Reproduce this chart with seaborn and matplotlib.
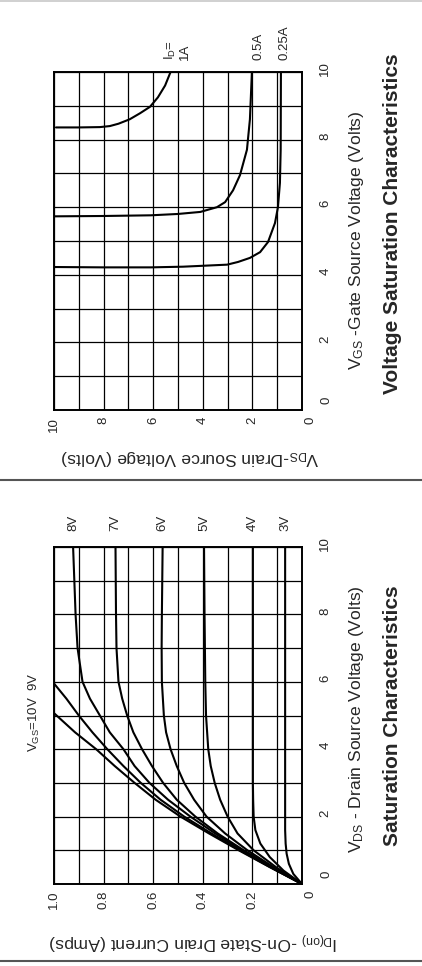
import matplotlib
matplotlib.use('Agg')
import matplotlib.pyplot as plt
import seaborn as sns
import pandas as pd
from matplotlib.lines import Line2D
from matplotlib.transforms import ScaledTranslation

# ---------------- Data ----------------
# Voltage Saturation Characteristics: VDS (V) vs VGS (V) at constant ID
vsat_labels = ['1A', '0.5A', '0.25A']
vgs_1A = [8.36, 8.36, 8.37, 8.40, 8.47, 8.60, 8.78, 8.97, 9.25, 9.60, 10.0]
vds_1A = [9.92, 9.00, 8.15, 7.75, 7.40, 6.95, 6.53, 6.13, 5.81, 5.52, 5.30]
vgs_05A = [5.73, 5.74, 5.76, 5.80, 5.86, 6.00, 6.15, 6.50, 6.95, 7.70, 8.60, 10.0]
vds_05A = [9.96, 8.00, 6.10, 5.00, 4.10, 3.43, 3.10, 2.78, 2.50, 2.22, 2.10, 2.02]
vgs_025A = [4.23, 4.22, 4.22, 4.24, 4.30, 4.38, 4.50, 4.67, 4.97, 5.53, 6.00, 6.72, 7.70, 10.0]
vds_025A = [9.96, 8.00, 6.10, 4.80, 3.02, 2.58, 2.10, 1.69, 1.37, 1.09, 0.97, 0.89, 0.86, 0.85]

# Saturation Characteristics: ID(on) (A) vs VDS (V) at constant VGS
sat_labels = ['10V', '9V', '8V', '7V', '6V', '5V', '4V', '3V']
vds_10V = [0, 0.5, 1, 1.5, 2, 2.5, 3, 3.5, 4, 4.5, 5.07]
id_10V = [0, 0.13, 0.255, 0.375, 0.49, 0.59, 0.675, 0.755, 0.83, 0.915, 1.0]
vds_9V = [0, 0.5, 1, 1.5, 2, 2.5, 3, 3.5, 4, 4.5, 5, 5.5, 5.95]
id_9V = [0, 0.128, 0.25, 0.365, 0.475, 0.57, 0.65, 0.72, 0.785, 0.845, 0.90, 0.95, 1.0]
vds_8V = [0, 0.5, 1, 1.5, 2, 2.5, 3, 3.5, 4, 4.5, 5, 5.5, 6, 7, 8, 9, 10]
id_8V = [0, 0.125, 0.243, 0.35, 0.45, 0.54, 0.615, 0.675, 0.72, 0.775, 0.815, 0.855, 0.885, 0.905, 0.913, 0.918, 0.923]
vds_7V = [0, 0.5, 1, 1.5, 2, 2.5, 3, 3.5, 4, 4.5, 5, 5.5, 6, 7, 8, 10]
id_7V = [0, 0.12, 0.235, 0.34, 0.43, 0.505, 0.56, 0.605, 0.645, 0.68, 0.705, 0.725, 0.74, 0.748, 0.75, 0.752]
vds_6V = [0, 0.5, 1, 1.5, 2, 2.5, 3, 3.5, 4, 4.5, 5, 6, 7, 8, 10]
id_6V = [0, 0.115, 0.22, 0.31, 0.385, 0.435, 0.475, 0.505, 0.53, 0.548, 0.557, 0.565, 0.566, 0.565, 0.562]
vds_5V = [0, 0.5, 1, 1.5, 2, 2.5, 3, 3.5, 4, 5, 6, 8, 10]
id_5V = [0, 0.105, 0.195, 0.26, 0.30, 0.33, 0.352, 0.368, 0.378, 0.387, 0.39, 0.393, 0.395]
vds_4V = [0, 0.4, 0.8, 1.2, 1.6, 2.0, 2.5, 3, 4, 10]
id_4V = [0, 0.075, 0.13, 0.168, 0.188, 0.195, 0.197, 0.198, 0.198, 0.198]
vds_3V = [0, 0.3, 0.6, 0.9, 1.2, 1.6, 2.5, 10]
id_3V = [0, 0.035, 0.053, 0.062, 0.066, 0.068, 0.068, 0.068]

volt_ticks = [0, 2, 4, 6, 8, 10]
volt_ticklabels = ['0', '2', '4', '6', '8', '10']
amp_ticks = [0, 0.2, 0.4, 0.6, 0.8, 1.0]
amp_ticklabels = ['0', '0.2', '0.4', '0.6', '0.8', '1.0']

# ---------------- Style ----------------
sns.set_theme(style='white')
plt.rcParams['font.family'] = ['Liberation Sans', 'DejaVu Sans']
plt.rcParams['mathtext.fontset'] = 'custom'
plt.rcParams['mathtext.rm'] = 'Liberation Sans'
plt.rcParams['mathtext.it'] = 'Liberation Sans:italic'
plt.rcParams['mathtext.bf'] = 'Liberation Sans:bold'

W, H = 422, 966
fig = plt.figure(figsize=(W / 100, H / 100), dpi=100)
fig.patch.set_facecolor('white')


def px_axes(x0, y0, x1, y1):
    return fig.add_axes([x0 / W, 1 - y1 / H, (x1 - x0) / W, (y1 - y0) / H])


def fx(x):
    return x / W


def fy(y):
    return 1 - y / H


LW = 1.5
TICK_FS = 9.5
LAB_FS = 12.6
TITLE_FS = 15
ANN_FS = 9.5


def style_axes(ax, hmax, hticks, hlabels, y_px0, y_px1):
    ax.set_facecolor('white')
    ax.set_xlim(hmax, 0)
    ax.set_ylim(0, 10)
    ax.set_xticks(hticks)
    ax.set_xticklabels([''] + list(hlabels[1:]))
    ax.set_xticks([hmax * i / 10 for i in range(11)], minor=True)
    ax.set_yticks(volt_ticks)
    ax.set_yticklabels([''] + volt_ticklabels[1:])
    ax.set_yticks(range(11), minor=True)
    ax.yaxis.tick_right()
    ax.grid(True, which='both', color='black', linewidth=0.9)
    ax.tick_params(axis='both', which='both', length=0)
    ax.tick_params(axis='x', pad=5, labelsize=TICK_FS)
    ax.tick_params(axis='y', pad=12.5, labelsize=TICK_FS)
    for lab in ax.get_xticklabels():
        lab.set_rotation(90)
        lab.set_ha('center')
        lab.set_va('top')
    for lab in ax.get_yticklabels():
        lab.set_rotation(90)
        lab.set_va('center')
        lab.set_ha('left')
    # the printed labels sit a few pixels above their grid lines
    up = ScaledTranslation(0, 3.5 / 100, fig.dpi_scale_trans)
    for tick in ax.yaxis.get_major_ticks():
        tick.label2.set_transform(tick.label2.get_transform() + up)
    for sp in ax.spines.values():
        sp.set_visible(True)
        sp.set_color('black')
        sp.set_linewidth(1.4)
    ax.set_xlabel('')
    ax.set_ylabel('')
    # the two "0" labels at the corner are nudged away from each other
    hpx = y_px1 - y_px0
    ax.text((311 - 54) / 248, -7 / hpx, hlabels[0], transform=ax.transAxes,
            rotation=90, ha='center', va='top', fontsize=TICK_FS)
    ax.text((320 - 54) / 248, 10 / hpx, volt_ticklabels[0], transform=ax.transAxes,
            rotation=90, ha='left', va='center', fontsize=TICK_FS)


# ---------------- Top: Voltage Saturation Characteristics ----------------
ax1 = px_axes(54, 72, 302, 410)
for vgs, vds in [(vgs_1A, vds_1A), (vgs_05A, vds_05A), (vgs_025A, vds_025A)]:
    df = pd.DataFrame({'VDS': vds, 'VGS': vgs})
    sns.lineplot(data=df, x='VDS', y='VGS', sort=False, estimator=None,
                 color='black', linewidth=LW, ax=ax1)
style_axes(ax1, 10, volt_ticks, volt_ticklabels, 72, 410)

ax1.text(5.32, 10.36, r'I$_{\rm D}$=', rotation=90, ha='center', va='bottom',
         fontsize=ANN_FS, clip_on=False)
ax1.text(4.72, 10.36, vsat_labels[0], rotation=90, ha='center', va='bottom',
         fontsize=ANN_FS, clip_on=False)
ax1.text(1.77, 10.36, vsat_labels[1], rotation=90, ha='center', va='bottom',
         fontsize=ANN_FS, clip_on=False)
ax1.text(0.69, 10.36, vsat_labels[2], rotation=90, ha='center', va='bottom',
         fontsize=ANN_FS, clip_on=False)

fig.text(fx(356), fy(240), r'V$_{\rm GS}$ -Gate Source Voltage (Volts)',
         rotation=90, ha='center', va='center', fontsize=LAB_FS)
fig.text(fx(392), fy(224), 'Voltage Saturation Characteristics',
         rotation=90, ha='center', va='center', fontsize=TITLE_FS, fontweight='bold')
fig.text(fx(190), fy(457), r'V$_{\rm DS}$-Drain Source Voltage (Volts)',
         rotation=180, ha='center', va='center', fontsize=LAB_FS)

# ---------------- Bottom: Saturation Characteristics ----------------
ax2 = px_axes(54, 547, 302, 884)
sat_curves = [(vds_10V, id_10V), (vds_9V, id_9V), (vds_8V, id_8V), (vds_7V, id_7V),
              (vds_6V, id_6V), (vds_5V, id_5V), (vds_4V, id_4V), (vds_3V, id_3V)]
for vds, idd in sat_curves:
    df = pd.DataFrame({'ID': idd, 'VDS': vds})
    sns.lineplot(data=df, x='ID', y='VDS', sort=False, estimator=None,
                 color='black', linewidth=LW, ax=ax2)
style_axes(ax2, 1.0, amp_ticks, amp_ticklabels, 547, 884)

# curve labels (VGS values) above the right end of each curve
for lab, (vds, idd) in zip(sat_labels[2:], sat_curves[2:]):
    ax2.text(idd[-1], 10.72, lab, rotation=90, ha='center', va='center',
             fontsize=ANN_FS, clip_on=False)
ax2.text(1.077, 3.92, r'V$_{\rm GS}$=10V  9V', rotation=90, ha='center', va='bottom',
         fontsize=ANN_FS, clip_on=False)

fig.text(fx(356), fy(719), r'V$_{\rm DS}$ - Drain Source Voltage (Volts)',
         rotation=90, ha='center', va='center', fontsize=LAB_FS)
fig.text(fx(392), fy(716), 'Saturation Characteristics',
         rotation=90, ha='center', va='center', fontsize=TITLE_FS, fontweight='bold')
fig.text(fx(193), fy(940), r'I$_{\rm D(on)}$ -On-State Drain Current (Amps)',
         rotation=180, ha='center', va='center', fontsize=LAB_FS)

# ---------------- Frame / separator lines ----------------
fig.add_artist(Line2D([0, 1], [fy(0.5), fy(0.5)], transform=fig.transFigure,
                      color='#c8c8c8', linewidth=1.2))
fig.add_artist(Line2D([0, 1], [fy(480), fy(480)], transform=fig.transFigure,
                      color='#555555', linewidth=1.5))
fig.add_artist(Line2D([0, 1], [fy(961), fy(961)], transform=fig.transFigure,
                      color='#555555', linewidth=1.5))

fig.savefig('out.png', dpi=100, facecolor='white')
